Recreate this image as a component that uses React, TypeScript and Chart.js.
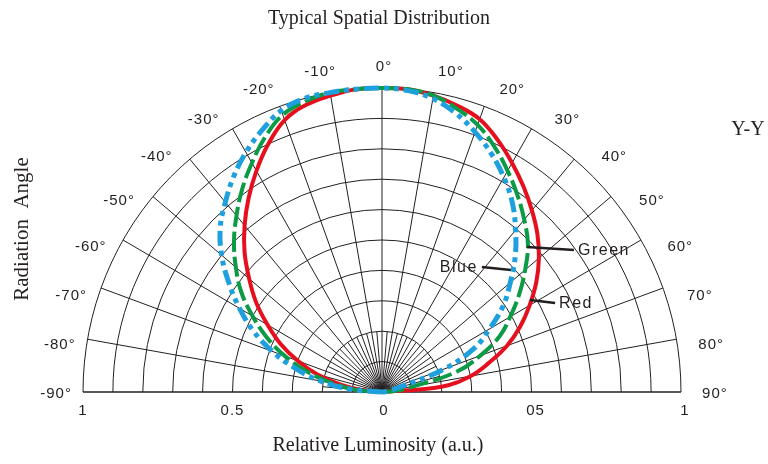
import { useEffect, useRef } from 'react';
import { Chart, registerables } from 'chart.js';

Chart.register(...registerables);

// ---- data (relative luminosity read at each radiation angle) ----
const ANGLES = [
  -90, -85, -80, -75, -70, -65, -60, -55, -50, -45, -40, -35, -30, -25, -20, -15, -10, -5,
  0, 5, 10, 15, 20, 25, 30, 35, 40, 45, 50, 55, 60, 65, 70, 75, 80, 85, 90,
];
const RED = [
  0, 0.07, 0.14, 0.225, 0.3, 0.375, 0.442, 0.514, 0.58, 0.65, 0.715, 0.778, 0.84, 0.9, 0.952, 0.978, 0.99, 1.0,
  1.0, 1.0, 0.99, 0.975, 0.955, 0.915, 0.87, 0.825, 0.78, 0.735, 0.685, 0.63, 0.57, 0.51, 0.445, 0.37, 0.3, 0.2, 0,
];
const GREEN = [
  0, 0.09, 0.17, 0.26, 0.345, 0.425, 0.5, 0.575, 0.638, 0.7, 0.757, 0.815, 0.87, 0.925, 0.97, 0.99, 1.0, 1.0,
  1.0, 1.0, 0.99, 0.965, 0.935, 0.89, 0.84, 0.79, 0.74, 0.69, 0.625, 0.56, 0.495, 0.434, 0.35, 0.26, 0.11, 0.04, 0,
];
const BLUE = [
  0, 0.11, 0.21, 0.3, 0.39, 0.475, 0.55, 0.625, 0.7, 0.765, 0.815, 0.865, 0.91, 0.95, 0.985, 1.0, 1.0, 1.0,
  1.0, 0.995, 0.98, 0.95, 0.91, 0.865, 0.815, 0.76, 0.695, 0.63, 0.56, 0.495, 0.415, 0.34, 0.22, 0.06, 0.02, 0.01, 0,
];

const RINGS = [0.1, 0.2, 0.3, 0.4, 0.5, 0.6, 0.7, 0.8, 0.9, 1.0];
const SPOKES = [-80, -70, -60, -50, -40, -30, -20, -10, 0, 10, 20, 30, 40, 50, 60, 70, 80];
const FINE_SPOKES = [-85, -75, -65, -55, -45, -35, -25, -15, -5, 5, 15, 25, 35, 45, 55, 65, 75, 85];
const FINE_SPOKE_LEN = 0.2;
const ANGLE_TICKS = [-90, -80, -70, -60, -50, -40, -30, -20, -10, 0, 10, 20, 30, 40, 50, 60, 70, 80, 90];
const X_TICK_VALUES = [-1, -0.5, 0, 0.5, 1];
const X_TICK_LABELS = ['1', '0.5', '0', '05', '1'];

const TITLE = 'Typical Spatial Distribution';
const X_TITLE = 'Relative Luminosity (a.u.)';
const Y_TITLE = 'Radiation  Angle';
const CORNER = 'Y-Y';

// callouts: text, leader start / end (data units)
const CALLOUT_NAMES = ['Green', 'Blue', 'Red'];
const CALLOUT_FROM = [[0.485, 0.477], [0.431, 0.401], [0.495, 0.303]];
const CALLOUT_TO = [[0.642, 0.467], [0.334, 0.411], [0.579, 0.293]];

const INK = '#231f20';
const SANS = '"Liberation Sans", Arial, sans-serif';
const SERIF = '"Liberation Serif", "Times New Roman", serif';

const toXY = (vals: number[]) =>
  ANGLES.map((a, i) => {
    const t = (a * Math.PI) / 180;
    return { x: vals[i] * Math.sin(t), y: vals[i] * Math.cos(t) };
  });

const polarPlugin = {
  id: 'polarGrid',
  beforeDatasetsDraw(chart: any) {
    const { ctx, scales } = chart;
    const xs = scales.x, ys = scales.y;
    const cx = xs.getPixelForValue(0), cy = ys.getPixelForValue(0);
    const sx = xs.getPixelForValue(1) - cx;
    const sy = cy - ys.getPixelForValue(1);
    ctx.save();
    ctx.strokeStyle = INK;
    ctx.lineWidth = 1;
    RINGS.forEach((r) => {
      ctx.beginPath();
      ctx.ellipse(cx, cy, r * sx, r * sy, 0, Math.PI, 2 * Math.PI);
      ctx.stroke();
    });
    SPOKES.forEach((a) => {
      const t = (a * Math.PI) / 180;
      ctx.beginPath();
      ctx.moveTo(cx, cy);
      ctx.lineTo(cx + sx * Math.sin(t), cy - sy * Math.cos(t));
      ctx.stroke();
    });
    FINE_SPOKES.forEach((a) => {
      const t = (a * Math.PI) / 180;
      ctx.beginPath();
      ctx.moveTo(cx, cy);
      ctx.lineTo(cx + FINE_SPOKE_LEN * sx * Math.sin(t), cy - FINE_SPOKE_LEN * sy * Math.cos(t));
      ctx.stroke();
    });
    ctx.lineWidth = 1.6;
    ctx.beginPath();
    ctx.moveTo(xs.getPixelForValue(-1), cy);
    ctx.lineTo(xs.getPixelForValue(1), cy);
    ctx.stroke();
    ctx.restore();
  },
  afterDraw(chart: any) {
    const { ctx, scales } = chart;
    const xs = scales.x, ys = scales.y;
    const cx = xs.getPixelForValue(0), cy = ys.getPixelForValue(0);
    const sx = xs.getPixelForValue(1) - cx;
    ctx.save();
    ctx.fillStyle = INK;
    ctx.strokeStyle = INK;
    ctx.textBaseline = 'middle';
    ctx.textAlign = 'center';
    // angle labels
    ctx.font = `15px ${SANS}`;
    (ctx as any).letterSpacing = '1px';
    ANGLE_TICKS.forEach((a) => {
      const off = Math.sign(a) * 4 * Math.sin((2 * Math.abs(a) * Math.PI) / 180);
      const t = ((a + off) * Math.PI) / 180;
      const R = 1.1 * sx;
      const dx = a > 0 ? 4 : a < 0 ? 3 : 2;
      ctx.fillText(`${a}°`, cx + R * Math.sin(t) + dx, cy - R * Math.cos(t) + (a === 0 ? 4 : 2));
    });
    // x tick labels
    X_TICK_VALUES.forEach((v, i) => {
      ctx.fillText(X_TICK_LABELS[i], xs.getPixelForValue(v) + (v > 0 ? 4 : v === 0 ? 2 : 0), cy + 19);
    });
    // callouts
    ctx.font = `16px ${SANS}`;
    (ctx as any).letterSpacing = '1.5px';
    ctx.lineWidth = 2.5;
    CALLOUT_NAMES.forEach((name, i) => {
      const [fx, fy] = CALLOUT_FROM[i];
      const [tx, ty] = CALLOUT_TO[i];
      const x1 = xs.getPixelForValue(fx), y1 = ys.getPixelForValue(fy);
      const x2 = xs.getPixelForValue(tx), y2 = ys.getPixelForValue(ty);
      ctx.beginPath();
      ctx.moveTo(x1, y1);
      ctx.lineTo(x2, y2);
      ctx.stroke();
      const left = tx > fx;
      ctx.textAlign = left ? 'left' : 'right';
      ctx.fillText(name, x2 + (left ? 4 : -4), y2 + 1);
    });
    // titles
    (ctx as any).letterSpacing = '0px';
    ctx.textAlign = 'center';
    ctx.font = `20px ${SERIF}`;
    ctx.fillText(TITLE, 379, 19);
    ctx.fillText(X_TITLE, 378, 446);
    ctx.fillText(CORNER, 748, 130);
    ctx.save();
    ctx.translate(22, 229);
    ctx.rotate(-Math.PI / 2);
    ctx.font = `21px ${SERIF}`;
    ctx.fillText(Y_TITLE, 0, 0);
    ctx.restore();
    ctx.restore();
  },
};

export default function App() {
  const ref = useRef<HTMLCanvasElement | null>(null);
  useEffect(() => {
    if (!ref.current) return;
    const chart = new Chart(ref.current, {
      type: 'scatter',
      data: {
        datasets: [
          {
            label: 'Blue',
            data: toXY(BLUE),
            showLine: true,
            borderColor: '#1fa0de',
            borderWidth: 5,
            borderDash: [15, 5, 5, 5, 5, 5],
            pointRadius: 0,
            tension: 0.4,
            clip: false,
            order: 0,
          },
          {
            label: 'Green',
            data: toXY(GREEN),
            showLine: true,
            borderColor: '#0b9a45',
            borderWidth: 4,
            borderDash: [20, 5],
            pointRadius: 0,
            tension: 0.4,
            clip: false,
            order: 1,
          },
          {
            label: 'Red',
            data: toXY(RED),
            showLine: true,
            borderColor: '#e60f1e',
            borderWidth: 4,
            pointRadius: 0,
            tension: 0.4,
            clip: false,
            order: 2,
          },
        ] as any,
      },
      options: {
        responsive: false,
        maintainAspectRatio: false,
        animation: false,
        events: [],
        layout: { padding: { left: 83, right: 87, top: 88, bottom: 72 } },
        scales: {
          x: { type: 'linear', min: -1, max: 1, display: false },
          y: { type: 'linear', min: 0, max: 1, display: false },
        },
        plugins: { legend: { display: false }, tooltip: { enabled: false }, title: { display: false } },
      },
      plugins: [polarPlugin],
    });
    return () => chart.destroy();
  }, []);
  return (
    <div style={{ position: 'absolute', left: 0, top: 0, width: 768, height: 464, background: '#fff' }}>
      <canvas ref={ref} width={768} height={464} style={{ display: 'block', width: 768, height: 464 }} />
    </div>
  );
}
